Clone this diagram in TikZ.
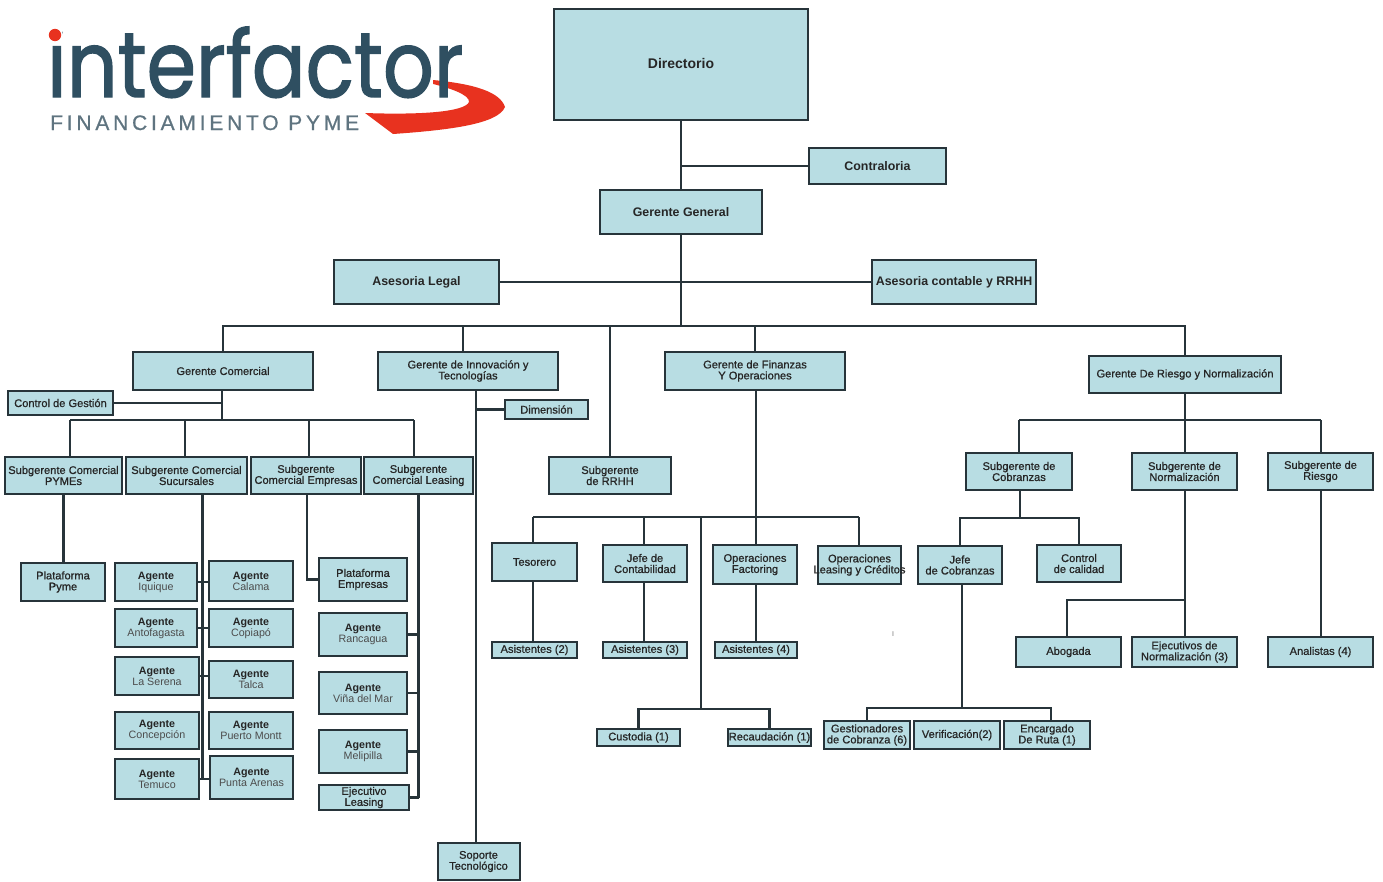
\documentclass[tikz,border=0pt]{standalone}
\usepackage{fontspec}
\setmainfont{Liberation Sans}
\newfontfamily\logofont[FakeBold=1.6]{Poppins}
\newfontfamily\subfont[LetterSpace=18,FakeBold=0.8]{Liberation Sans}
\newfontfamily\softbold[FakeBold=0.8]{Liberation Sans}
\usepackage{tikz}
\usetikzlibrary{positioning}
\definecolor{unitfill}{HTML}{B8DDE3}
\definecolor{unitline}{HTML}{27343A}
\definecolor{logoblue}{HTML}{2F4F61}
\definecolor{logogrey}{HTML}{5F7480}
\definecolor{logored}{HTML}{E8321F}
\tikzset{
  unit/.style 2 args={draw=unitline,fill=unitfill,line width=2pt,inner sep=0pt,outer sep=0pt,
    align=center,minimum width=#1pt,minimum height=#2pt,text=black!85,
    font=\softbold\fontsize{11.1}{11}\selectfont},
  head/.style={font=\bfseries\fontsize{12.4}{14}\selectfont},
  agent/.style={font=\fontsize{10.7}{11}\selectfont},
  minor/.style={font=\softbold\fontsize{11.1}{11}\selectfont},
  wire/.style={draw=unitline,line width=2.2pt}
}
\newcommand{\agt}[1]{{\bfseries Agente}\\{\color{black!70}#1}}
\begin{document}
\begin{tikzpicture}[x=1pt,y=-1pt]
\useasboundingbox (0,0) rectangle (1383,881);

%logo
\fill[logored] (433,80) .. controls (475,84) and (500,92) .. (505,107) .. controls (498,124) and (450,130) .. (393,134)
  -- (365,113) .. controls (420,115) and (465,112) .. (469,102) .. controls (470,95) and (450,88) .. (433,84) -- cycle;
\node[anchor=base west,inner sep=0pt,text=logoblue,font=\logofont\fontsize{92}{92}\selectfont] (logo) at (47,97) {\scalebox{0.865}[1]{interfactor}};
\fill[white] (51,26) rectangle (62,42);
\fill[logored] (55,35) circle (6.2);
\node[anchor=base west,inner sep=0pt,text=logogrey,font=\subfont\fontsize{21}{21}\selectfont] (pyme) at (50,130) {FINANCIAMIENTO PYME};

%top nodes
\node[unit={254}{111},head,font=\bfseries\fontsize{14}{14}\selectfont] (dir) at (681,64.5) {\raisebox{3pt}{Directorio}};
\node[unit={137}{36},head] (contra) at (877.5,166) {Contraloria};
\node[unit={162}{44},head] (gg) at (681,212) {Gerente General};
\node[unit={165}{44},head] (legal) at (416.5,282) {Asesoria Legal};
\node[unit={164}{44},head] (conta) at (954,282) {Asesoria contable y RRHH};

%managers
\node[unit={180}{38}] (gcom) at (223,371) {Gerente Comercial};
\node[unit={180}{38}] (ginn) at (468,371) {Gerente de Innovación y\\Tecnologías};
\node[unit={122}{37}] (srrhh) at (610,475.5) {Subgerente\\de RRHH};
\node[unit={180}{38}] (gfin) at (755,371) {Gerente de Finanzas\\Y Operaciones};
\node[unit={192}{37}] (grie) at (1185,374.5) {Gerente De Riesgo y Normalización};

%commercial nodes
\node[unit={105}{24}] (gestion) at (60.5,403) {Control de Gestión};
\node[unit={117}{37}] (spyme) at (63.5,475.5) {Subgerente Comercial\\PYMEs};
\node[unit={121}{37}] (ssuc) at (186.5,475.5) {Subgerente Comercial\\Sucursales};
\node[unit={110}{37}] (semp) at (306,475.5) {Subgerente\\Comercial Empresas};
\node[unit={109}{37}] (slea) at (418.5,475.5) {Subgerente\\Comercial Leasing};
\node[unit={84}{38}] (ppyme) at (63,582) {Plataforma\\Pyme};
\node[unit={88}{43}] (pemp) at (363,579.5) {Plataforma\\Empresas};

%agents left
\node[unit={82}{38},agent] (a1) at (156,582) {\agt{Iquique}};
\node[unit={82}{38},agent] (a2) at (156,628) {\agt{Antofagasta}};
\node[unit={84}{38},agent] (a3) at (157,676) {\agt{La Serena}};
\node[unit={84}{37},agent] (a4) at (157,730.5) {\agt{Concepción}};
\node[unit={84}{40},agent] (a5) at (157,779) {\agt{Temuco}};

%agents right
\node[unit={84}{40},agent] (b1) at (251,581) {\agt{Calama}};
\node[unit={84}{38},agent] (b2) at (251,628) {\agt{Copiapó}};
\node[unit={84}{37},agent] (b3) at (251,679.5) {\agt{Talca}};
\node[unit={84}{37},agent] (b4) at (251,730.5) {\agt{Puerto Montt}};
\node[unit={83}{43},agent] (b5) at (251.5,777.5) {\agt{Punta Arenas}};

%agents leasing
\node[unit={88}{43},agent] (c1) at (363,634.5) {\agt{Rancagua}};
\node[unit={88}{42},agent] (c2) at (363,693) {\agt{Viña del Mar}};
\node[unit={88}{43},agent] (c3) at (363,751.5) {\agt{Melipilla}};
\node[unit={90}{25},minor] (c4) at (364,797.5) {Ejecutivo\\Leasing};

%innovation nodes
\node[unit={83}{19},minor] (dim) at (546.5,409.5) {Dimensión};
\node[unit={82}{37},minor] (sop) at (478.5,861.5) {Soporte\\Tecnológico};

%finance nodes
\node[unit={85}{38},minor] (tes) at (534.5,562) {Tesorero};
\node[unit={84}{37},minor] (jcon) at (645,563.5) {Jefe de\\Contabilidad};
\node[unit={84}{39},minor] (ofac) at (755,564.5) {Operaciones\\Factoring};
\node[unit={83}{38},minor] (olea) at (859.5,565) {Operaciones\\\makebox[0pt]{Leasing y Créditos}};
\node[unit={85}{16},minor] (as2) at (534.5,650) {Asistentes (2)};
\node[unit={84}{16},minor] (as3) at (645,650) {Asistentes (3)};
\node[unit={82}{16},minor] (as4) at (756,650) {Asistentes (4)};
\node[unit={83}{17},minor] (cus) at (638.5,737.5) {Custodia (1)};
\node[unit={83}{17},minor] (rec) at (769.5,737.5) {\makebox[0pt]{Recaudación (1)}};

%risk nodes
\node[unit={106}{37},minor] (scob) at (1019,471.5) {Subgerente de\\Cobranzas};
\node[unit={105}{37},minor] (snor) at (1184.5,471.5) {Subgerente de\\Normalización};
\node[unit={105}{37},minor] (srie) at (1320.5,471.5) {Subgerente de\\Riesgo};
\node[unit={84}{38},minor] (jcob) at (960,565) {Jefe\\de Cobranzas};
\node[unit={84}{37},minor] (ccal) at (1079,563.5) {Control\\de calidad};
\node[unit={105}{30},minor] (abo) at (1068.5,652) {Abogada};
\node[unit={105}{30},minor] (enor) at (1184.5,652) {Ejecutivos de\\Normalización (3)};
\node[unit={105}{30},minor] (ana) at (1320.5,652) {Analistas (4)};
\node[unit={86}{28},minor] (ges) at (867,735) {Gestionadores\\de Cobranza (6)};
\node[unit={86}{28},minor] (ver) at (957,735) {Verificación(2)};
\node[unit={86}{28},minor] (enc) at (1047,735) {Encargado\\De Ruta (1)};
\node[inner sep=0pt,text=black!55,font=\fontsize{7}{7}\selectfont] (tick) at (893,634) {I};

%junctions
\coordinate (jc) at (681,166);
\coordinate (jtop) at (681,326);
\coordinate (jinn) at (463,326);
\coordinate (jcom) at (222,420);
\coordinate (jges) at (222,403);
\coordinate (jcb1) at (70,420);
\coordinate (jcb2) at (185,420);
\coordinate (jcb3) at (309,420);
\coordinate (jcb4) at (414,420);
\coordinate (jdim) at (476,409.5);
\coordinate (jfin) at (756,517);
\coordinate (jf1) at (533,517);
\coordinate (jf2) at (644,517);
\coordinate (jf3) at (701,517);
\coordinate (jf4) at (859,517);
\coordinate (jf5) at (701,709);
\coordinate (jrie) at (1185,420);
\coordinate (jr1) at (1019,420);
\coordinate (jr2) at (1321,420);
\coordinate (jr3) at (1020,518);
\coordinate (jr6) at (1185,600);
\coordinate (jr7) at (1067,600);
\coordinate (jr8) at (962,708);
\coordinate (jr10) at (1051,708);

%edges top
\draw[wire] (dir) -- (gg);
\draw[wire] (jc) -- (contra);
\draw[wire] (gg) -- (jtop);
\draw[wire] (legal) -- (conta);
\draw[wire] (gcom.north) |- (jtop) -| (grie.north);
\draw[wire] (jinn) -- (jinn |- ginn.north);
\draw[wire] (srrhh.north) -- (srrhh.north |- jtop);
\draw[wire] (gfin.north) -- (gfin.north |- jtop);

%edges commercial
\draw[wire] (jcom |- gcom.south) -- (jcom);
\draw[wire] (gestion) -- (jges);
\draw[wire] (jcb1) -- (jcb4);
\draw[wire] (jcb1) -- (jcb1 |- spyme.north);
\draw[wire] (jcb2) -- (jcb2 |- ssuc.north);
\draw[wire] (jcb3) -- (jcb3 |- semp.north);
\draw[wire] (jcb4) -- (jcb4 |- slea.north);
\draw[wire] (spyme.south) -- (spyme.south |- ppyme.north);
\draw[wire] (ssuc.south) ++(16,0) coordinate (jsuc) -- (jsuc |- a5);
\draw[wire] (a1) -- (b1.west |- a1);
\draw[wire] (a2) -- (b2);
\draw[wire] (a3) -- (b3.west |- a3);
\draw[wire] (a5) -- (b5.west |- a5);
\draw[wire] (semp.south) ++(1,0) coordinate (jsem) |- (pemp.west);
\draw[wire] (slea.south) -- (slea.south |- c4);
\draw[wire] (c1) -- (c1 -| slea.south);
\draw[wire] (c2) -- (c2 -| slea.south);
\draw[wire] (c3) -- (c3 -| slea.south);
\draw[wire] (c4) -- (c4 -| slea.south);

%edges innovation
\draw[wire] (jdim |- ginn.south) -- (jdim |- sop.north);
\draw[wire] (jdim) -- (dim);

%edges finance
\draw[wire] (gfin.south -| jfin) -- (jfin |- ofac.north);
\draw[wire] (jf1) -- (jf4);
\draw[wire] (jf1) -- (jf1 |- tes.north);
\draw[wire] (jf2) -- (jf2 |- jcon.north);
\draw[wire] (jf4) -- (olea.north -| jf4);
\draw[wire] (jf3) -- (jf5);
\draw[wire] (cus.north) |- (jf5) -| (rec.north);
\draw[wire] (jf1 |- tes.south) -- (jf1 |- as2.north);
\draw[wire] (jf2 |- jcon.south) -- (jf2 |- as3.north);
\draw[wire] (jfin |- ofac.south) -- (as4.north);

%edges risk
\draw[wire] (grie) -- (jrie |- snor.north);
\draw[wire] (jr1) -- (jr2);
\draw[wire] (jr1) -- (jr1 |- scob.north);
\draw[wire] (jr2) -- (jr2 |- srie.north);
\draw[wire] (jr3 |- scob.south) -- (jr3);
\draw[wire] (jcob.north) |- (jr3) -| (ccal.north);
\draw[wire] (jr6 |- snor.south) -- (jr6 |- enor.north);
\draw[wire] (jr6) -| (abo.north -| jr7);
\draw[wire] (jr2 |- srie.south) -- (jr2 |- ana.north);
\draw[wire] (jr8 |- jcob.south) -- (jr8);
\draw[wire] (ges.north) |- (jr8) -| (jr10 |- enc.north);
\end{tikzpicture}
\end{document}
